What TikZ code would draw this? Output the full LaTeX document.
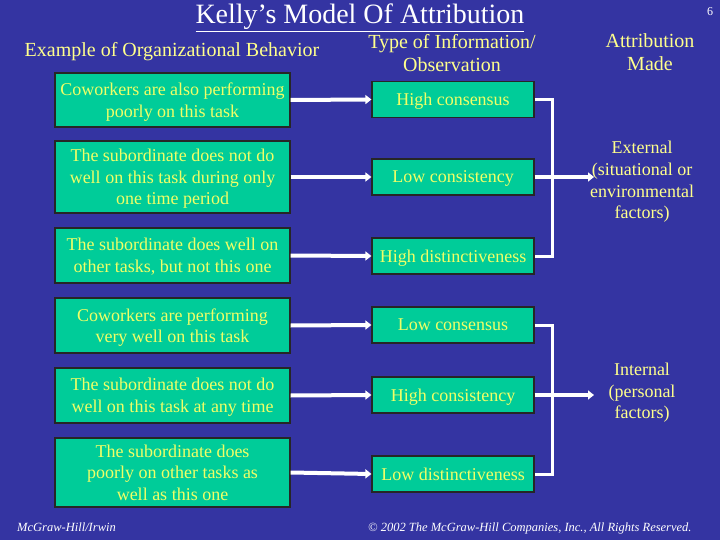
\documentclass[tikz,border=0pt]{standalone}
\usepackage{fontspec}
\setmainfont{Liberation Serif}
\usetikzlibrary{arrows.meta}
\definecolor{bgblue}{RGB}{52,52,162}
\definecolor{boxgreen}{RGB}{0,204,153}
\definecolor{txtyellow}{RGB}{240,255,102}
\definecolor{headyellow}{RGB}{255,255,140}
\tikzset{
  leftbox/.style={draw=black!85, line width=1.2pt, fill=boxgreen, minimum width=235pt, align=center, text=txtyellow, font=\fontsize{18}{21.6}\selectfont, inner sep=0pt, text depth=0pt},
  midbox/.style={draw=black!85, line width=1.2pt, fill=boxgreen, minimum width=162pt, minimum height=36pt, align=center, text=txtyellow, font=\fontsize{18}{21.6}\selectfont, inner sep=0pt, text depth=0pt},
  header/.style={text=headyellow, align=center, font=\fontsize{20}{23.5}\selectfont, inner sep=0pt},
  result/.style={text=headyellow, align=center, font=\fontsize{18}{21.7}\selectfont, inner sep=0pt, text depth=0pt},
  flow/.style={white, line width=4pt, -{Triangle[length=6pt,width=9pt]}},
  bracket/.style={white, line width=3pt},
  foot/.style={white, font=\fontsize{12.5}{14}\itshape\selectfont, inner sep=0pt}
}
\begin{document}
\begin{tikzpicture}[x=1pt,y=-1pt]
\fill[bgblue] (0,0) rectangle (720,540);
\useasboundingbox (0,0) rectangle (720,540);

\node[white, font=\fontsize{28}{32}\selectfont, anchor=base, inner sep=0pt] (title) at (360,24) {\underline{Kelly’s Model Of Attribution}};
\node[white, font=\fontsize{12}{14}\selectfont, inner sep=0pt] (pg) at (710,12) {6};

\node[header, anchor=base] (h1) at (172,57) {Example of Organizational Behavior};
\node[header] (h2) at (452,53) {Type of Information/\\Observation};
\node[header] (h3) at (650,52) {Attribution\\Made};

\node[leftbox, minimum height=54pt] (L1) at (172.5,100) {Coworkers are also performing\\poorly on this task};
\node[leftbox, minimum height=72pt] (L2) at (172.5,177) {The subordinate does not do\\well on this task during only\\one time period};
\node[leftbox, minimum height=55pt] (L3) at (172.5,255.5) {The subordinate does well on\\other tasks, but not this one};
\node[leftbox, minimum height=55pt] (L4) at (172.5,325.5) {Coworkers are performing\\very well on this task};
\node[leftbox, minimum height=55pt] (L5) at (172.5,395.5) {The subordinate does not do\\well on this task at any time};
\node[leftbox, minimum height=69pt] (L6) at (172.5,472.5) {The subordinate does\\poorly on other tasks as\\well as this one};

\node[midbox] (M1) at (453,99.5) {High consensus};
\node[midbox] (M2) at (453,177) {Low consistency};
\node[midbox] (M3) at (453,256) {High distinctiveness};
\node[midbox] (M4) at (453,325) {Low consensus};
\node[midbox] (M5) at (453,395) {High consistency};
\node[midbox] (M6) at (453,474) {Low distinctiveness};

\node[result] (ext) at (642,180) {External\\(situational or\\environmental\\factors)};
\node[result] (int) at (642,391) {Internal\\(personal\\factors)};

\foreach \i in {1,...,6} {
  \draw[flow] (L\i.east) -- (M\i.west);
}

\coordinate (B1) at (552,177);
\coordinate (B2) at (552,395);
\coordinate (A1) at (594,177);
\coordinate (A2) at (594,395);
\draw[bracket] (M1.east) -| (B1) |- (M3.east);
\draw[bracket] (M4.east) -| (B2) |- (M6.east);
\draw[flow] (M2.east) -- (A1);
\draw[flow] (M5.east) -- (A2);

\node[foot, anchor=base west] (f1) at (17,531) {McGraw-Hill/Irwin};
\node[foot, anchor=base west] (f2) at (368,531) {© 2002 The McGraw-Hill Companies, Inc., All Rights Reserved.};
\end{tikzpicture}
\end{document}
